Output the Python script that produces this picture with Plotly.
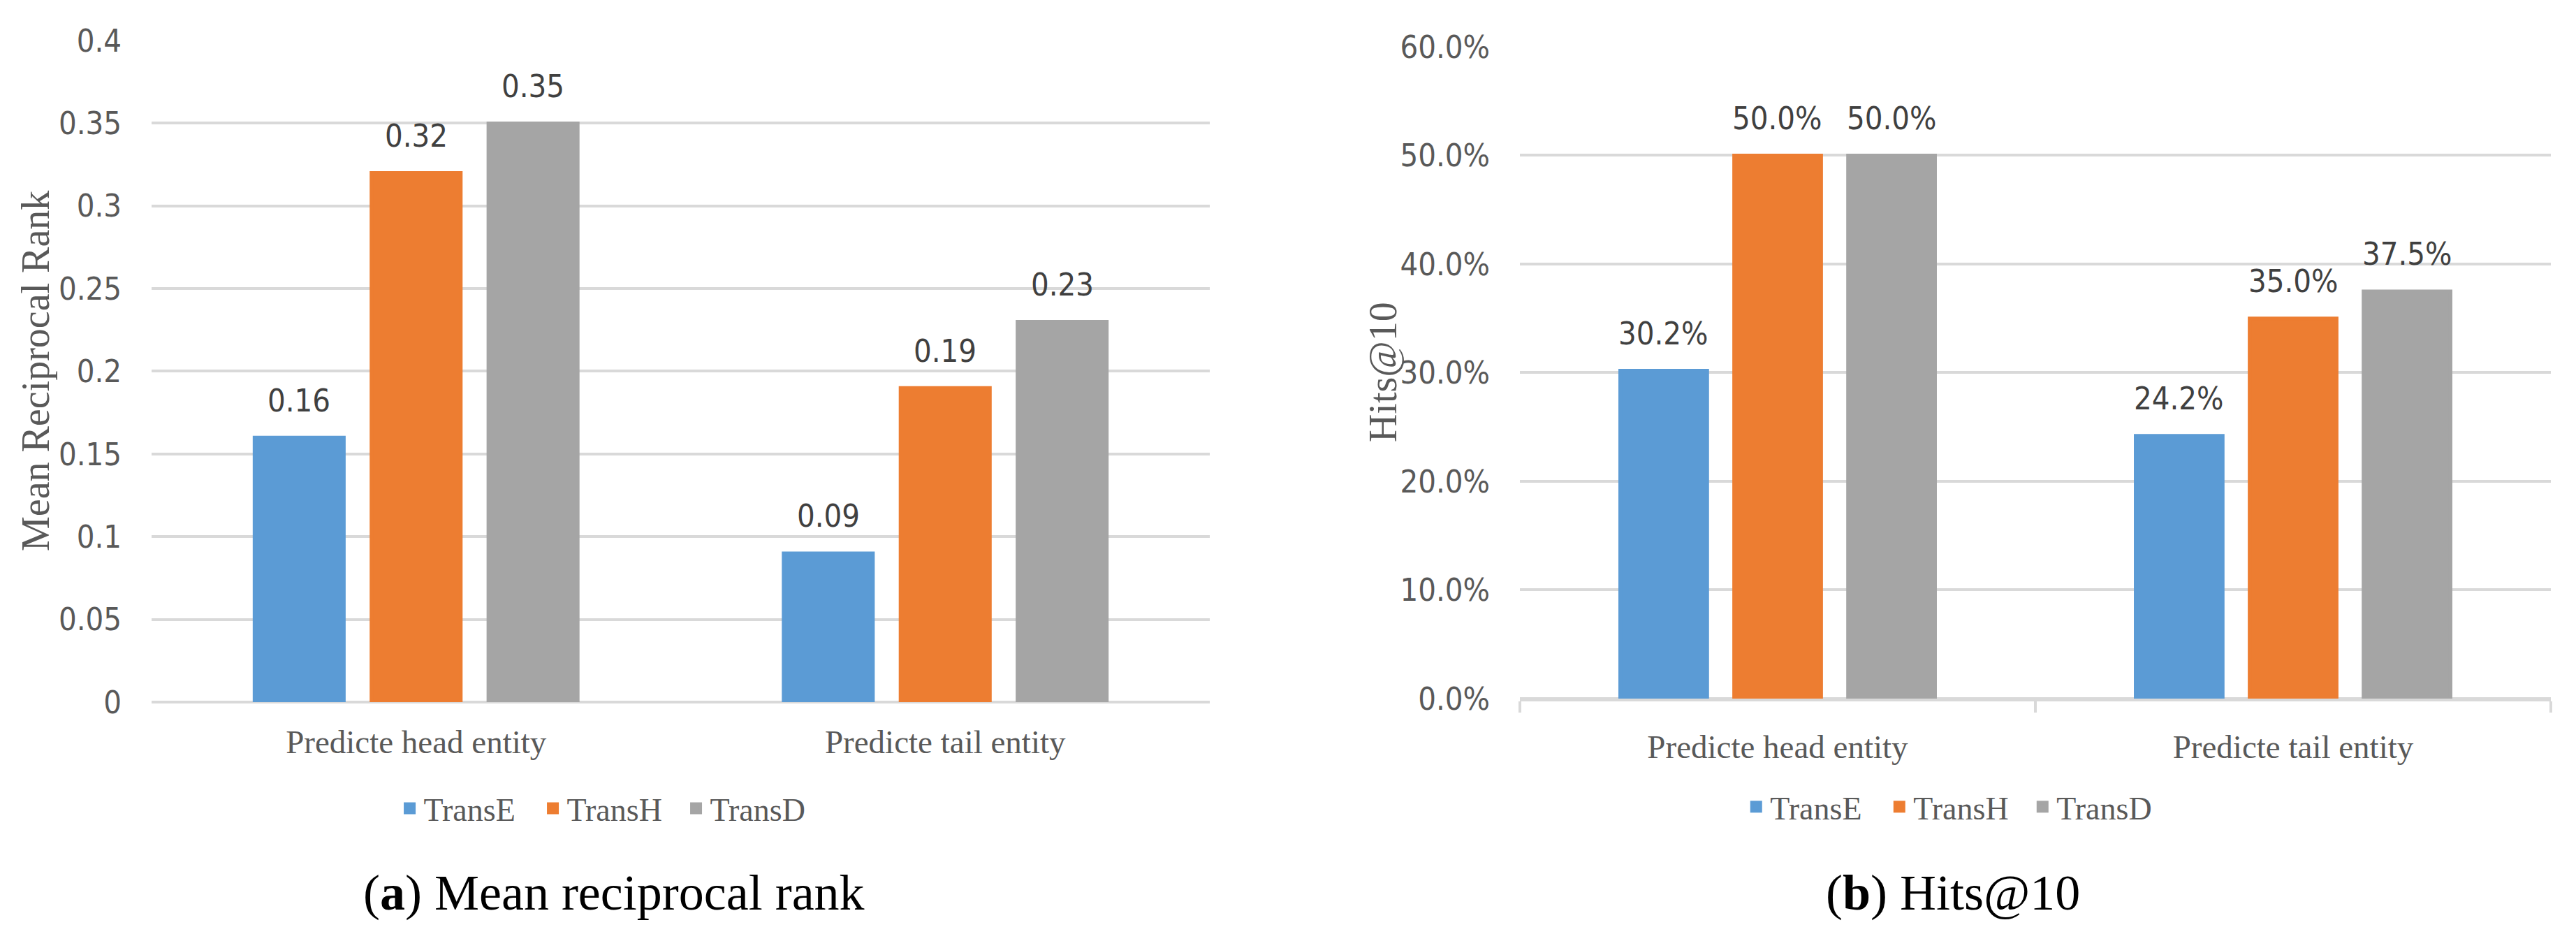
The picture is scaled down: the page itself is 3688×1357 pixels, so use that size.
import plotly.graph_objects as go

# ---------------- data ----------------
categories = ["Predicte head entity", "Predicte tail entity"]
models = ["TransE", "TransH", "TransD"]
colors = ["#5B9BD5", "#ED7D31", "#A5A5A5"]

mrr_transe = [0.16, 0.09]
mrr_transh = [0.32, 0.19]
mrr_transd = [0.35, 0.23]

hits_transe = [30.2, 24.2]
hits_transh = [50.0, 35.0]
hits_transd = [50.0, 37.5]

mrr_tickvals = [0, 0.05, 0.1, 0.15, 0.2, 0.25, 0.3, 0.35, 0.4]
mrr_ticktext = ["0", "0.05", "0.1", "0.15", "0.2", "0.25", "0.3", "0.35", "0.4"]
hits_tickvals = [0, 10, 20, 30, 40, 50, 60]
hits_ticktext = ["0.0%", "10.0%", "20.0%", "30.0%", "40.0%", "50.0%", "60.0%"]

mrr_series = [mrr_transe, mrr_transh, mrr_transd]
hits_series = [hits_transe, hits_transh, hits_transd]

# ---------------- styles ----------------
SANS = "Liberation Sans Narrow, DejaVu Sans Condensed, Liberation Sans, sans-serif"
SERIF = "Liberation Serif, Times New Roman, serif"
GRID = "#D9D9D9"
TXT = "#595959"
LBL = "#404040"
BARGAP = 0.337
BARGROUPGAP = 0.235

fig = go.Figure()

for i, name in enumerate(models):
    fig.add_trace(go.Bar(
        x=categories, y=mrr_series[i], name=name,
        marker=dict(color=colors[i], line=dict(color=colors[i], width=5)),
        offsetgroup=str(i), xaxis="x", yaxis="y", legend="legend",
        hoverinfo="skip",
    ))
for i, name in enumerate(models):
    fig.add_trace(go.Bar(
        x=categories, y=hits_series[i], name=name,
        marker=dict(color=colors[i], line=dict(color=colors[i], width=5)),
        offsetgroup=str(i), xaxis="x2", yaxis="y2", legend="legend2",
        hoverinfo="skip",
    ))

# value labels, placed over each bar through the category axis
slot = (1 - BARGAP) / len(models)
annotations = []
for i in range(len(models)):
    for j in range(len(categories)):
        off = j + (i - (len(models) - 1) / 2) * slot
        annotations.append(dict(
            x=off, y=mrr_series[i][j], xref="x", yref="y",
            text=f"{mrr_series[i][j]:g}", showarrow=False,
            xanchor="center", yanchor="middle", yshift=53,
            font=dict(family=SANS, size=45, color=LBL)))
        annotations.append(dict(
            x=off, y=hits_series[i][j], xref="x2", yref="y2",
            text=f"{hits_series[i][j]:.1f}%", showarrow=False,
            xanchor="center", yanchor="middle", yshift=53,
            font=dict(family=SANS, size=45, color=LBL)))

annotations += [
    # y-axis titles
    dict(text="Mean Reciprocal Rank", xref="paper", yref="paper",
         x=0.01383, y=0.6087, xanchor="center", yanchor="middle", textangle=-90,
         showarrow=False, font=dict(family=SERIF, size=56, color=TXT)),
    dict(text="Hits@10", xref="paper", yref="paper",
         x=0.5369, y=0.6072, xanchor="center", yanchor="middle", textangle=-90,
         showarrow=False, font=dict(family=SERIF, size=56, color=TXT)),
    # sub-figure captions
    dict(text="(<b>a</b>) Mean reciprocal rank", xref="paper", yref="paper",
         x=0.2383, y=0.0582, xanchor="center", yanchor="middle", showarrow=False,
         font=dict(family=SERIF, size=72, color="black")),
    dict(text="(<b>b</b>) Hits@10", xref="paper", yref="paper",
         x=0.7582, y=0.0582, xanchor="center", yanchor="middle", showarrow=False,
         font=dict(family=SERIF, size=72, color="black")),
]

xcommon = dict(
    type="category", showgrid=False, zeroline=False, automargin=False,
    tickfont=dict(family=SERIF, size=47, color=TXT),
    ticklabelstandoff=25,
)
ycommon = dict(
    showgrid=True, gridcolor=GRID, gridwidth=4, automargin=False,
    zeroline=True, zerolinecolor=GRID, zerolinewidth=4,
    showline=False, ticks="",
    tickfont=dict(family=SANS, size=45, color=TXT),
    ticklabelstandoff=42,
)

legend_common = dict(
    orientation="h", xanchor="center", yanchor="middle",
    font=dict(family=SERIF, size=46, color=TXT), bgcolor="rgba(0,0,0,0)",
    entrywidth=160, entrywidthmode="pixels",
    itemclick=False, itemdoubleclick=False,
)

fig.update_layout(
    width=3688, height=1357,
    margin=dict(l=0, r=0, t=0, b=0, autoexpand=False),
    paper_bgcolor="white", plot_bgcolor="white",
    barmode="group", bargap=BARGAP, bargroupgap=BARGROUPGAP,
    hovermode=False,
    xaxis=dict(domain=[0.05884, 0.46963], anchor="y", showline=False, ticks="", **xcommon),
    xaxis2=dict(domain=[0.59002, 0.99024], anchor="y2", showline=True, linecolor=GRID, linewidth=4,
                ticks="outside", tickson="boundaries", ticklen=16, tickwidth=4, tickcolor=GRID,
                **xcommon),
    yaxis=dict(domain=[0.25939, 0.95726], anchor="x", range=[0, 0.4],
               tickvals=mrr_tickvals, ticktext=mrr_ticktext, **ycommon),
    yaxis2=dict(domain=[0.26308, 0.95063], anchor="x2", range=[0, 60],
                tickvals=hits_tickvals, ticktext=hits_ticktext, **ycommon),
    legend=dict(x=0.2370, y=0.1474, **legend_common),
    legend2=dict(x=0.7597, y=0.1490, **legend_common),
    annotations=annotations,
)

fig.write_html("out.html", config={"displayModeBar": False},
               post_script="document.body.style.margin='0';")
